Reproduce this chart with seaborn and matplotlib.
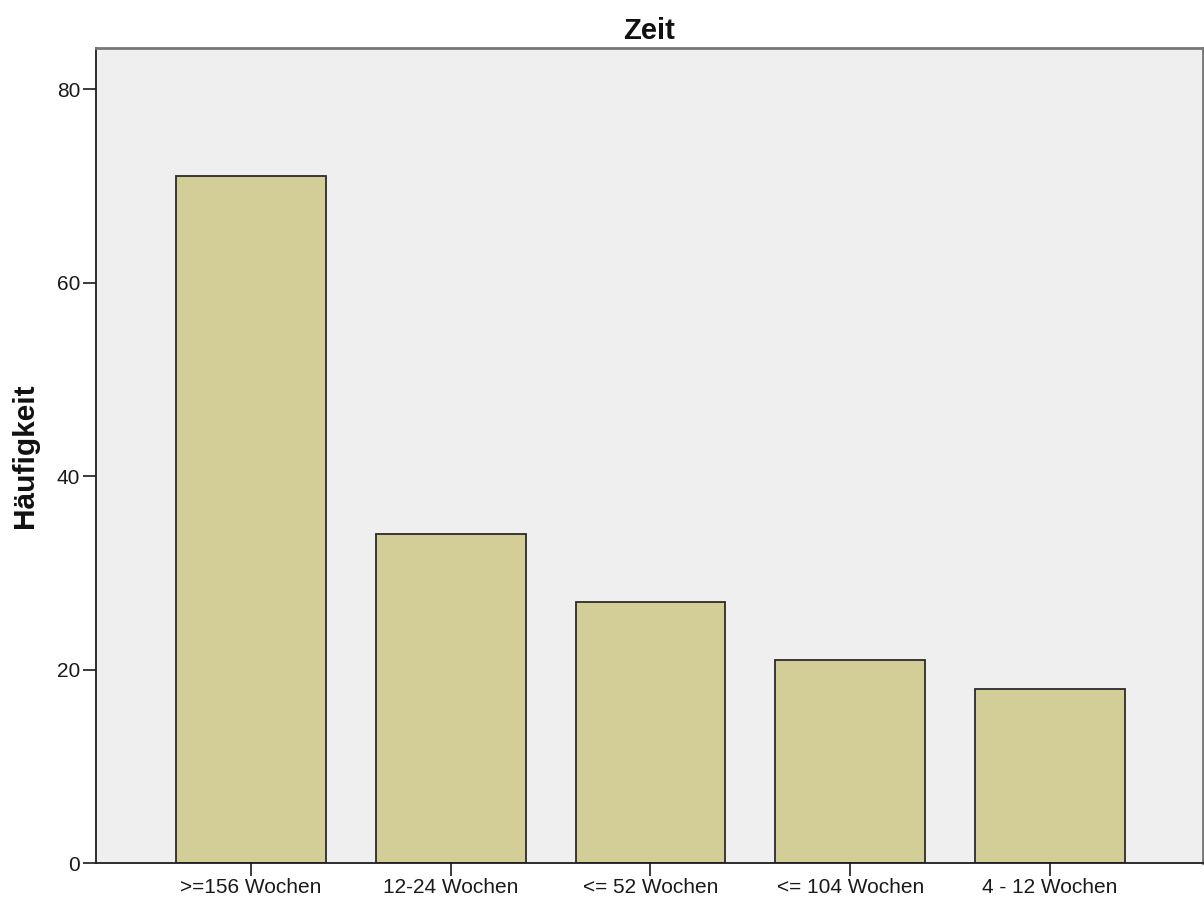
import matplotlib
matplotlib.use('Agg')
import matplotlib.pyplot as plt
import seaborn as sns
import pandas as pd

# Data
categories = ['>=156 Wochen', '12-24 Wochen', '<= 52 Wochen', '<= 104 Wochen', '4 - 12 Wochen']
counts = [71, 34, 27, 21, 18]
y_ticks = [0, 20, 40, 60, 80]

df = pd.DataFrame({'Zeit': categories, 'Häufigkeit': counts})

sns.set_style('white')
plt.rcParams['font.family'] = ['Liberation Sans', 'DejaVu Sans']

fig = plt.figure(figsize=(12.04, 9.02), dpi=100)
ax = fig.add_axes([0.0797, 0.0432, 0.9195, 0.9039])
ax.set_facecolor('#efefef')

sns.barplot(data=df, x='Zeit', y='Häufigkeit', order=categories, color='#d3ce97',
            saturation=1, width=0.75, edgecolor='#2b2b2b', linewidth=1.3, ax=ax)

ax.set_xlim(-0.775, 4.765)
ax.set_ylim(0, 84.3)
ax.set_yticks(y_ticks)
ax.set_yticklabels([str(t) for t in y_ticks], fontsize=15)
ax.tick_params(axis='x', labelsize=15, length=9, width=1.2, colors='#1a1a1a', pad=2, bottom=True)
ax.tick_params(axis='y', length=9.4, width=1.2, colors='#1a1a1a', pad=2, left=True)

for side in ['left', 'bottom']:
    ax.spines[side].set_color('#1e1e1e')
    ax.spines[side].set_linewidth(1.3)
for side in ['top', 'right']:
    ax.spines[side].set_color('#777777')
    ax.spines[side].set_linewidth(2)

ax.set_xlabel('')
ax.set_ylabel('Häufigkeit', fontsize=21.5, fontweight='bold', labelpad=13, color='#111111')
ax.set_title('Zeit', fontsize=21, fontweight='bold', pad=6, color='#111111')

plt.savefig('out.png', dpi=100)
